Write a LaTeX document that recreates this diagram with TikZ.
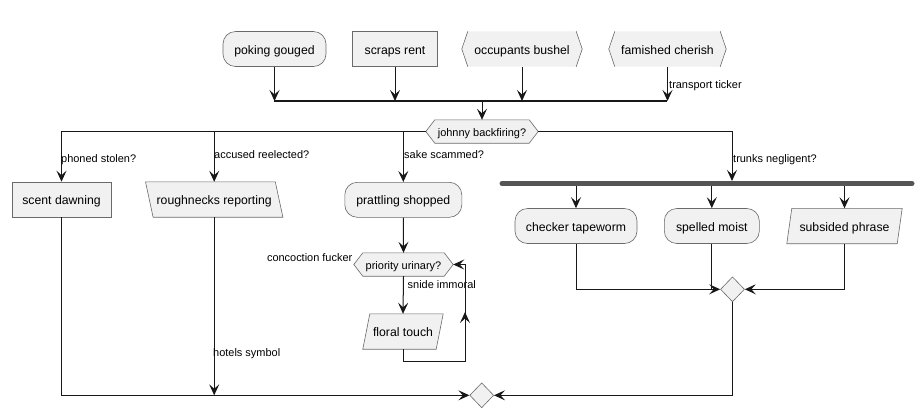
\documentclass[tikz,border=0pt]{standalone}
\usepackage{fontspec}
\setmainfont{Liberation Sans}
\usetikzlibrary{arrows.meta,shapes.geometric,backgrounds}
\definecolor{fillc}{HTML}{F1F1F1}
\definecolor{linec}{HTML}{181818}
\definecolor{bordc}{HTML}{6A6A6A}
\definecolor{barc}{HTML}{555555}
\tikzset{
  txt/.style={inner sep=0pt, font=\fontsize{12.3}{14}\selectfont, minimum height=35bp, text height=10bp, text depth=0pt},
  htxt/.style={inner sep=0pt, font=\fontsize{11}{13}\selectfont, minimum height=23bp, text height=9bp, text depth=0pt},
  shp/.style={draw=bordc, fill=fillc, line width=0.6bp},
  lbl/.style={inner sep=0pt, font=\fontsize{11}{13}\selectfont, anchor=west, text height=8.5bp, text depth=0pt},
  conn/.style={draw=linec, line width=1bp},
  arr/.style={conn, -{Stealth[length=11bp,width=10bp,inset=4.5bp]}},
  dia/.style={shape=diamond, draw=bordc, fill=fillc, line width=0.6bp, inner sep=0pt, minimum width=24bp, minimum height=25bp},
}
\newcommand\hexshape[2]{\path[shp] ([xshift=#2]#1.north west) -- ([xshift=-#2]#1.north east) -- (#1.east) -- ([xshift=-#2]#1.south east) -- ([xshift=#2]#1.south west) -- (#1.west) -- cycle;}
\newcommand\brackshape[2]{\path[fill=fillc] ([xshift=#2]#1.north west) -- ([xshift=-#2]#1.north east) -- (#1.east) -- ([xshift=-#2]#1.south east) -- ([xshift=#2]#1.south west) -- (#1.west) -- cycle;
  \draw[draw=bordc, line width=0.6bp] ([xshift=#2]#1.north west) -- (#1.west) -- ([xshift=#2]#1.south west);
  \draw[draw=bordc, line width=0.6bp] ([xshift=-#2]#1.north east) -- (#1.east) -- ([xshift=-#2]#1.south east);}
% "/" parallelogram: top shifted right
\newcommand\paraR[2]{\path[shp] ([xshift=#2]#1.north west) -- (#1.north east) -- ([xshift=-#2]#1.south east) -- (#1.south west) -- cycle;}
% "\" parallelogram: top shifted left
\newcommand\paraL[2]{\path[shp] (#1.north west) -- ([xshift=-#2]#1.north east) -- (#1.south east) -- ([xshift=#2]#1.south west) -- cycle;}
\begin{document}
\begin{tikzpicture}[x=1bp,y=-1bp]
\begin{scope}[on background layer]
\fill[white] (0,0) rectangle (923,418);
\end{scope}
\useasboundingbox (0,0) rectangle (923,418);
% top row
\node[txt, shp, rounded corners=12.5bp, minimum width=103bp] (pg) at (274.5,49) {poking gouged};
\node[txt, shp, minimum width=85bp] (sr) at (395,49) {scraps rent};
\node[txt, minimum width=120bp] (ob) at (522,49) {occupants bushel};
\node[txt, minimum width=117bp] (fc) at (667.5,49) {famished cherish};
% join bar
\coordinate (jl) at (274,101);
\coordinate (jr) at (667,101);
\coordinate (jb) at (482,101);
\draw[linec, line width=2bp] (jl) -- (jr);
\draw[arr] (pg.south) -- (pg.south |- jb);
\draw[arr] (sr.south) -- (sr.south |- jb);
\draw[arr] (ob.south) -- (ob.south |- jb);
\draw[arr] (fc.south) -- (fc.south |- jb);
\node[lbl] (ltt) at (669,84) {transport ticker};
% decision
\node[htxt, minimum width=112bp] (jh) at (482,131.5) {johnny backfiring?};
\draw[arr] (jb) -- (jh.north);
% second row
\node[txt, shp, minimum width=99bp] (sd) at (61.5,199.5) {scent dawning};
\node[txt, minimum width=137bp] (rr) at (214.2,199.5) {roughnecks reporting};
\node[txt, shp, rounded corners=12.5bp, minimum width=117bp] (ps) at (403.3,199.8) {prattling shopped};
% fork bar
\coordinate (fkL) at (502,183.5);
\coordinate (fkR) at (912,183.5);
\coordinate (fkT) at (732,181);
\coordinate (fkB) at (732,186);
\draw[barc, line width=5bp, line cap=round] (fkL) -- (fkR);
% branches
\draw[arr] (jh.west) -| (sd.north);
\draw[arr] (rr.north |- jh.west) -- (rr.north);
\draw[arr] (ps.north |- jh.west) -- (ps.north);
\draw[arr] (jh.east) -| (fkT);
\node[lbl] (l1) at (61,158) {phoned stolen?};
\node[lbl] (l2) at (214,154) {accused reelected?};
\node[lbl] (l3) at (404,154) {sake scammed?};
\node[lbl] (l4) at (733,158) {trunks negligent?};
% fork children
\node[txt, shp, rounded corners=12.5bp, minimum width=122bp] (ct) at (576,226) {checker tapeworm};
\node[txt, shp, rounded corners=12.5bp, minimum width=95bp] (sm) at (711.8,226) {spelled moist};
\node[txt, minimum width=115bp] (sp) at (844.5,226) {subsided phrase};
\draw[arr] (ct.north |- fkB) -- (ct.north);
\draw[arr] (sm.north |- fkB) -- (sm.north);
\draw[arr] (sp.north |- fkB) -- (sp.north);
\node[dia] (md) at (732.5,289.3) {};
\draw[arr] (ct.south) |- (md.west);
\draw[conn] (sm.south) -- (sm.south |- md.west);
\draw[arr] (sp.south) |- (md.east);
% loop
\node[htxt, minimum width=99bp] (pu) at (403.5,264.5) {priority urinary?};
\node[txt, minimum width=80bp] (fl) at (403,331.5) {floral touch};
\draw[arr] (ps.south) -- (pu.north);
\draw[arr] (pu.south) -- (fl.north);
\node[lbl] (l5) at (407.5,284) {snide immoral};
\node[lbl, anchor=east] (l6) at (352.5,257.5) {concoction fucker};
\coordinate (lp1) at (465,361);
\coordinate (lpm) at (465,312);
\draw[arr] (fl.south) |- (lp1) |- (pu.east);
\draw[arr] (lp1) -- (lpm);
% final merge
\node[dia] (fd) at (481.7,395.3) {};
\draw[arr] (md.south) |- (fd.east);
\draw[arr] (sd.south) |- (fd.west);
\draw[arr] (rr.south) -- (rr.south |- fd.west);
\node[lbl] (l7) at (213,352) {hotels symbol};
% custom shapes
\begin{scope}[on background layer]
\brackshape{ob}{6bp}
\brackshape{fc}{6bp}
\hexshape{jh}{9bp}
\hexshape{pu}{9bp}
\paraL{rr}{7.6bp}
\paraR{sp}{5bp}
\paraR{fl}{7bp}
\end{scope}
\end{tikzpicture}
\end{document}
